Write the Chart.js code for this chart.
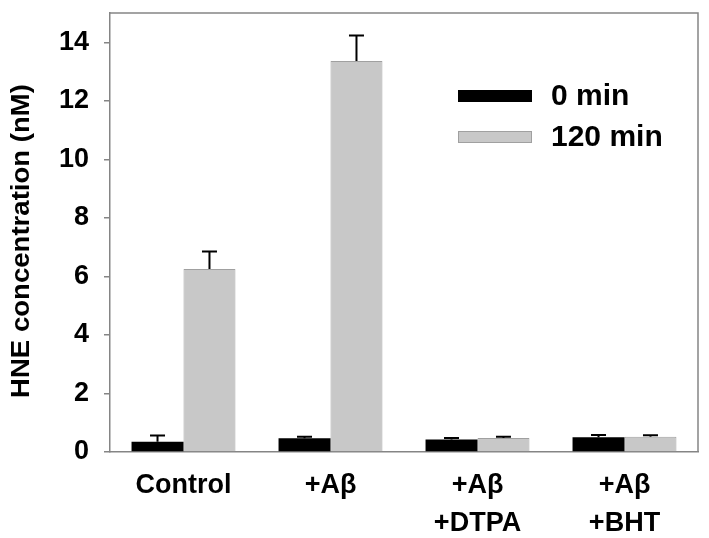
<!DOCTYPE html>
<html>
<head>
<meta charset="utf-8">
<script src="https://cdn.jsdelivr.net/npm/chart.js@4.4.1/dist/chart.umd.min.js"></script>
<style>
  body { margin: 0; background: #fff; }
  #wrap { width: 709px; height: 538px; }
</style>
</head>
<body>
<div id="wrap"><canvas id="chart"></canvas></div>
<script>
// data
const categories = ["Control", "+Aβ", ["+Aβ", "+DTPA"], ["+Aβ", "+BHT"]];
const min0 = [0.35, 0.47, 0.43, 0.50];
const min0Err = [0.21, 0.05, 0.05, 0.08];
const min120 = [6.25, 13.36, 0.48, 0.52];
const min120Err = [0.60, 0.87, 0.04, 0.05];
const yTicks = [0, 2, 4, 6, 8, 10, 12, 14];
const yTitle = "HNE concentration (nM)";

const axisGray = "#858585";
const fontFamily = "'Liberation Sans', Arial, sans-serif";

// error bars (upper whisker only)
const errorBars = {
  id: "errorBars",
  afterDatasetsDraw(chart) {
    const ctx = chart.ctx;
    const y = chart.scales.y;
    chart.data.datasets.forEach(function (ds, i) {
      const meta = chart.getDatasetMeta(i);
      meta.data.forEach(function (bar, j) {
        const top = y.getPixelForValue(ds.data[j] + ds.errors[j]);
        ctx.save();
        ctx.strokeStyle = "#000";
        ctx.lineWidth = 2;
        ctx.beginPath();
        ctx.moveTo(bar.x, bar.y);
        ctx.lineTo(bar.x, top);
        ctx.moveTo(bar.x - 7.5, top);
        ctx.lineTo(bar.x + 7.5, top);
        ctx.stroke();
        ctx.restore();
      });
    });
  }
};

// top and right frame lines, y title, legend
const frameAndLegend = {
  id: "frameAndLegend",
  afterDraw(chart) {
    const ctx = chart.ctx;
    const a = chart.chartArea;
    ctx.save();
    ctx.strokeStyle = axisGray;
    ctx.lineWidth = 1.5;
    ctx.beginPath();
    ctx.moveTo(a.left, a.top);
    ctx.lineTo(a.right, a.top);
    ctx.lineTo(a.right, a.bottom);
    ctx.stroke();

    // axis title, slightly below the plot centre like the original
    ctx.save();
    ctx.translate(22, 241);
    ctx.rotate(-Math.PI / 2);
    ctx.font = "bold 26px " + fontFamily;
    ctx.textAlign = "center";
    ctx.textBaseline = "middle";
    ctx.fillStyle = "#000";
    ctx.scale(1.06, 1);
    ctx.fillText(yTitle, 0, 0);
    ctx.restore();

    ctx.font = "bold 30px " + fontFamily;
    ctx.textBaseline = "middle";
    ctx.textAlign = "left";
    chart.data.datasets.forEach(function (ds, i) {
      const cy = 96 + i * 41;
      ctx.fillStyle = ds.backgroundColor;
      ctx.fillRect(458, cy - 6, 74, 12);
      if (ds.borderWidth) {
        ctx.strokeStyle = ds.borderColor;
        ctx.lineWidth = 1;
        ctx.strokeRect(458.5, cy - 5.5, 73, 11);
      }
      ctx.fillStyle = "#000";
      ctx.fillText(ds.label, 551, cy + 1);
    });
    ctx.restore();
  }
};

new Chart(document.getElementById("chart"), {
  type: "bar",
  data: {
    labels: categories,
    datasets: [
      {
        label: "0 min",
        data: min0,
        errors: min0Err,
        backgroundColor: "#000000",
        borderColor: "#000000",
        borderWidth: 0
      },
      {
        label: "120 min",
        data: min120,
        errors: min120Err,
        backgroundColor: "#c8c8c8",
        borderColor: "#a0a0a0",
        borderWidth: 1
      }
    ]
  },
  options: {
    responsive: true,
    maintainAspectRatio: false,
    animation: false,
    layout: { padding: { left: 0, top: 13, right: 11, bottom: 0 } },
    datasets: {
      bar: { barPercentage: 1, categoryPercentage: 0.707 }
    },
    plugins: {
      legend: { display: false },
      tooltip: { enabled: false }
    },
    scales: {
      x: {
        grid: { display: false, drawTicks: false },
        border: { color: axisGray, width: 1.5 },
        ticks: {
          color: "#000",
          padding: 15,
          maxRotation: 0,
          font: { family: fontFamily, size: 27, weight: "bold", lineHeight: 1.4 }
        },
        afterFit: function (scale) { scale.height = 86; }
      },
      y: {
        min: 0,
        max: 15,
        grid: { drawOnChartArea: false, drawTicks: true, tickLength: 6, color: axisGray, lineWidth: 1.5 },
        border: { color: axisGray, width: 1.5 },
        ticks: {
          color: "#000",
          padding: 15,
          font: { family: fontFamily, size: 27, weight: "bold" }
        },
        afterBuildTicks: function (scale) {
          scale.ticks = yTicks.map(function (v) { return { value: v }; });
        },
        afterFit: function (scale) {
          scale.width = 110;
          scale.paddingTop = 0;
          scale.paddingBottom = 0;
        }
      }
    }
  },
  plugins: [errorBars, frameAndLegend]
});
</script>
</body>
</html>
